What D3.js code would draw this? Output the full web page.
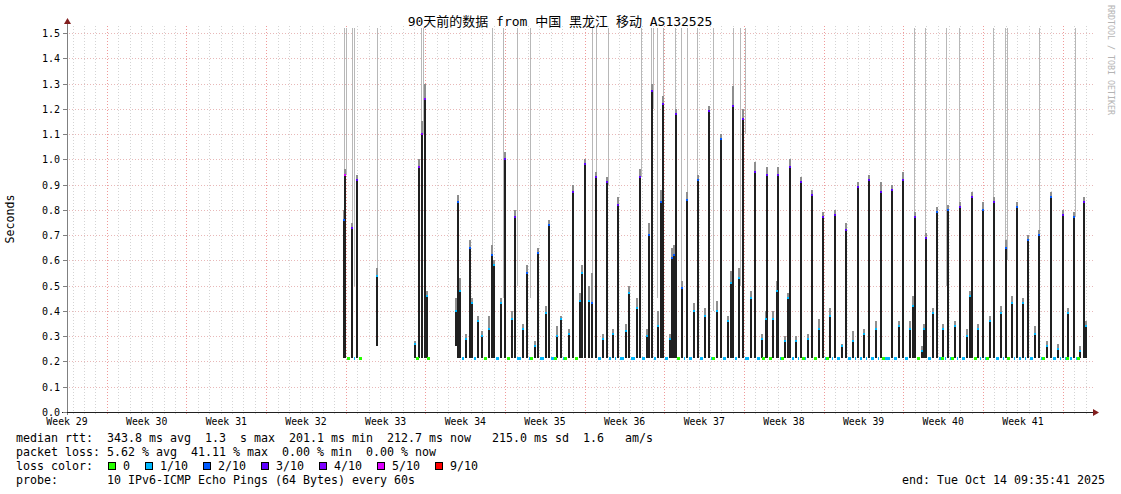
<!DOCTYPE html>
<html><head><meta charset="utf-8">
<script src="https://cdn.jsdelivr.net/npm/d3@7"></script>
<style>
body{margin:0;background:#fff}
text{font-family:"DejaVu Sans Mono","Noto Sans CJK SC",monospace;fill:#000}
</style>
</head><body>
<svg id="c" width="1121" height="494"></svg>
<script>
// ---------------- data ----------------
const title = "90天前的数据 from 中国 黑龙江 移动 AS132525";
const yTicks = [0.0,0.1,0.2,0.3,0.4,0.5,0.6,0.7,0.8,0.9,1.0,1.1,1.2,1.3,1.4,1.5];
const weekLabels = ["Week 29","Week 30","Week 31","Week 32","Week 33","Week 34","Week 35","Week 36","Week 37","Week 38","Week 39","Week 40","Week 41"];
const weekLabelDays = [0,7,14,21,28,35,42,49,56,63,70,77,84];
const weekLineDays = [3.5,10.5,17.5,24.5,31.5,38.5,45.5,52.5,59.5,66.5,73.5,80.5,87.5];
// spikes of the median rtt (days since start of the 90 day window, seconds)
const spikeDays = [24.30,24.47,25.00,25.48,27.20,30.58,30.97,31.19,31.46,31.63,
 34.18,34.36,34.53,35.06,35.41,35.59,36.12,36.47,37.08,37.35,37.52,38.14,38.49,39.10,39.37,40.07,40.42,41.12,41.39,42.09,42.35,43.06,43.41,44.11,44.46,45.08,45.25,45.52,45.87,46.13,46.48,47.10,47.45,47.98,48.42,49.12,49.38,50.09,50.35,50.97,51.14,51.40,51.93,52.20,52.37,52.99,53.16,53.34,53.51,54.04,54.48,55.10,55.45,56.06,56.41,57.12,57.47,58.08,58.35,58.52,59.05,59.40,60.11,60.46,61.07,61.42,61.51,62.04,62.39,62.48,63.09,63.36,63.53,64.06,64.50,65.11,65.46,66.08,66.43,67.05,67.48,68.10,68.45,69.07,69.51,70.04,70.47,71.09,71.53,72.50,73.11,73.46,74.08,74.34,74.52,75.13,75.31,75.48,76.10,76.45,76.98,77.42,78.03,78.47,79.09,79.35,79.52,80.05,80.49,81.11,81.46,82.07,82.51,83.04,83.48,84.01,84.45,85.06,85.41,86.11,86.47,87.08,87.52,87.96,88.49,89.01,89.37,89.54];
const spikePeak = [0.76,0.94,0.73,0.92,0.54,0.27,0.97,1.10,1.24,0.46,
 0.40,0.83,0.48,0.29,0.65,0.43,0.36,0.30,0.33,0.62,0.58,0.43,1.00,0.37,0.77,0.33,0.55,0.26,0.63,0.39,0.74,0.30,0.37,0.31,0.87,0.44,0.55,0.98,0.44,0.43,0.93,0.29,0.91,0.31,0.82,0.32,0.47,0.41,0.93,0.30,0.70,1.27,0.34,0.83,1.22,0.29,0.61,0.62,1.18,0.49,0.84,0.40,0.92,0.38,1.19,0.40,1.08,0.36,0.51,1.21,0.53,1.16,0.45,0.95,0.29,0.37,0.94,0.37,0.48,0.94,0.28,0.45,0.97,0.28,0.91,0.29,0.86,0.33,0.77,0.38,0.78,0.26,0.72,0.28,0.89,0.31,0.92,0.33,0.87,0.88,0.34,0.92,0.33,0.42,0.77,0.24,0.33,0.69,0.39,0.79,0.33,0.80,0.34,0.81,0.30,0.46,0.85,0.33,0.80,0.36,0.83,0.39,0.65,0.43,0.81,0.43,0.68,0.31,0.70,0.26,0.85,0.25,0.78,0.39,0.77,0.24,0.83,0.34];
const spikeMax = [0.80,0.96,0.75,0.94,0.57,0.28,1.00,1.15,1.30,0.48,
 0.45,0.86,0.53,0.31,0.68,0.45,0.38,0.32,0.38,0.66,0.60,0.45,1.03,0.40,0.80,0.35,0.58,0.28,0.65,0.42,0.76,0.34,0.38,0.33,0.90,0.47,0.58,1.00,0.50,0.55,0.95,0.31,0.93,0.33,0.85,0.35,0.50,0.45,0.96,0.33,0.75,1.30,0.40,0.88,1.25,0.31,0.65,0.66,1.20,0.52,0.87,0.43,0.94,0.41,1.21,0.44,1.10,0.38,0.56,1.29,0.57,1.20,0.48,0.99,0.31,0.40,0.97,0.40,0.52,0.97,0.30,0.47,1.00,0.30,0.93,0.31,0.88,0.37,0.79,0.41,0.80,0.27,0.75,0.32,0.91,0.33,0.94,0.36,0.91,0.90,0.36,0.95,0.36,0.46,0.79,0.26,0.35,0.71,0.41,0.81,0.35,0.82,0.36,0.83,0.33,0.48,0.87,0.35,0.83,0.38,0.85,0.42,0.68,0.46,0.83,0.45,0.70,0.34,0.72,0.28,0.87,0.27,0.80,0.41,0.79,0.26,0.85,0.36];
const spikeLow = [0.213,0.213,0.213,0.213,0.26,0.213,0.213,0.213,0.213,0.213,
 0.26];
const spikeLoss = [2,5,3,3,1,1,4,4,4,1,
 1,2,1,1,2,1,1,1,1,2,1,1,3,1,3,1,2,1,2,1,2,1,1,1,3,1,1,3,1,2,3,1,3,1,3,1,1,1,3,1,2,3,1,2,3,1,2,2,3,2,2,1,2,1,3,1,2,1,1,3,1,3,1,3,1,1,3,1,1,3,1,1,3,1,3,1,3,1,3,1,3,1,3,1,3,1,3,1,3,3,1,3,1,1,3,1,1,3,1,2,1,2,1,3,1,1,3,1,2,1,3,1,2,1,2,1,2,1,2,1,2,1,3,1,2,1,3,1];
// columns where some pings exceeded the graph top
const timeoutDays = [24.34,24.52,25.04,25.21,27.28,31.10,31.30,37.35,38.32,39.54,40.69,46.13,46.48,47.54,50.44,51.32,51.49,51.84,52.37,53.43,53.95,54.48,55.36,56.77,58.52,59.14,59.58,74.43,75.40,77.24,78.38,81.37,82.43,82.60,85.41,88.58];
const timeoutLow = [0.80,0.94,0.72,0.50,0.28,1.00,1.10,0.62,0.45,0.50,0.45,0.45,0.93,0.90,0.93,1.00,1.20,0.45,1.22,0.62,0.50,0.84,0.90,0.40,1.20,0.50,1.10,0.45,0.50,0.50,0.50,0.83,0.60,0.60,0.70,0.77];
// periods with data and their base rtt
const dataRanges = [[24.20,25.90],[30.50,31.72],[34.10,89.62]];
const baseRtt = [0.213,0.213,0.213];
// base periods without loss (green)
const greenDays = [24.69,25.75,30.76,31.72,36.73,38.75,40.77,42.88,43.76,44.73,53.69,56.77,61.16,61.78,62.83,64.67,65.73,66.78,71.70,74.78,76.89,77.77,79.79,80.84,82.69,85.76,87.87,88.84];
const lossLabels = ["0","1/10","2/10","3/10","4/10","5/10","9/10"];
const lossColors = ["#26ff00","#00b8ff","#0059ff","#5e00ff","#7e00ff","#dd00ff","#ff0000"];
const lossColorOf = {0:"#26ff00",1:"#00b8ff",2:"#0059ff",3:"#5e00ff",4:"#7e00ff",5:"#dd00ff",9:"#ff0000"};
const legendRows = [
 "median rtt:  343.8 ms avg  1.3  s max  201.1 ms min  212.7 ms now   215.0 ms sd  1.6   am/s",
 "packet loss: 5.62 % avg  41.11 % max  0.00 % min  0.00 % now",
 "loss color:",
 "probe:       10 IPv6-ICMP Echo Pings (64 Bytes) every 60s"];
const endText = "end: Tue Oct 14 09:35:41 2025";

// ---------------- drawing ----------------
const svg = d3.select('#c');
svg.append('rect').attr('width',1121).attr('height',494).attr('fill','#fff');
const x = d3.scaleLinear().domain([0,90]).range([67,1091.2]);
const y = d3.scaleLinear().domain([0,1.52]).range([412,28]);
const px = v => Math.round(x(v));
const py = v => Math.round(y(v));

// grid
const g = svg.append('g').attr('shape-rendering','crispEdges');
const minorDays = d3.range(0.5,90,1).filter(d => !weekLineDays.some(w => Math.abs(w-d)<0.01));
g.selectAll('.vmin').data(minorDays).join('line')
 .attr('x1',d=>px(d)+0.5).attr('x2',d=>px(d)+0.5).attr('y1',26).attr('y2',414)
 .attr('stroke','#d4d4d4').attr('stroke-dasharray','1,2');
g.selectAll('.hmaj').data(yTicks.filter(v=>v>0)).join('line')
 .attr('x1',63).attr('x2',1093).attr('y1',d=>py(d)+0.5).attr('y2',d=>py(d)+0.5)
 .attr('stroke','#e8b8b8').attr('stroke-dasharray','1,2');
g.selectAll('.vmaj').data(weekLineDays).join('line')
 .attr('x1',d=>px(d)+0.5).attr('x2',d=>px(d)+0.5).attr('y1',26).attr('y2',415)
 .attr('stroke','#f09a9a').attr('stroke-dasharray','1,2');

// timeouts
const plot = svg.append('g').attr('shape-rendering','crispEdges');
plot.selectAll('.to').data(timeoutDays).join('rect')
 .attr('x',d=>px(d)-0.5).attr('width',1.5)
 .attr('y',28).attr('height',(d,i)=>py(timeoutLow[i])-28)
 .attr('fill','#b8b8b8');

// smoke above the median
plot.selectAll('.sm').data(spikeDays).join('rect')
 .attr('x',d=>px(d)-1).attr('width',2)
 .attr('y',(d,i)=>py(spikeMax[i])).attr('height',(d,i)=>Math.max(0,py(spikePeak[i])-py(spikeMax[i])))
 .attr('fill','#8e8e8e');
// dark smoke columns
plot.selectAll('.sp').data(spikeDays).join('rect')
 .attr('x',d=>px(d)-1).attr('width',2)
 .attr('y',(d,i)=>py(spikePeak[i]))
 .attr('height',(d,i)=>py(spikeLow[i]!==undefined?spikeLow[i]:0.213)-py(spikePeak[i]))
 .attr('fill','#202020');

// base line segments (1/10 loss colour) between spikes
dataRanges.forEach((r,ri)=>{
  const inside = spikeDays.filter(d=>d>=r[0]&&d<=r[1]);
  const edges = [x(r[0])-2].concat(inside.map(d=>px(d))).concat([x(r[1])+2]);
  for(let k=0;k<edges.length-1;k++){
    const a = edges[k]+2, b = edges[k+1]-2;
    if(b>a) plot.append('rect').attr('x',a).attr('width',b-a)
      .attr('y',py(baseRtt[ri])-1).attr('height',2.5).attr('fill',lossColorOf[1]);
  }
});
plot.selectAll('.gr').data(greenDays).join('rect')
 .attr('x',d=>px(d)-1).attr('width',3).attr('y',py(0.213)-1).attr('height',2.5)
 .attr('fill',lossColorOf[0]);
// median markers at the peaks
plot.selectAll('.mk').data(spikeDays).join('rect')
 .attr('x',d=>px(d)-1).attr('width',2)
 .attr('y',(d,i)=>py(spikePeak[i])-1).attr('height',2)
 .attr('fill',(d,i)=>lossColorOf[spikeLoss[i]]);

// axes
const ax = svg.append('g').attr('shape-rendering','crispEdges');
ax.append('line').attr('x1',67.5).attr('x2',67.5).attr('y1',22).attr('y2',415).attr('stroke','#808080');
ax.append('line').attr('x1',62).attr('x2',1094).attr('y1',412.5).attr('y2',412.5).attr('stroke','#202020');
ax.selectAll('.yt').data(yTicks).join('line')
 .attr('x1',63).attr('x2',67).attr('y1',d=>py(d)+0.5).attr('y2',d=>py(d)+0.5).attr('stroke','#808080');
svg.append('path').attr('d','M64,24 L71,24 L67.5,18 Z').attr('fill','#821e1e');
svg.append('path').attr('d','M1093,409 L1093,416 L1099,412.5 Z').attr('fill','#821e1e');

svg.selectAll('.yl').data(yTicks).join('text')
 .attr('x',60).attr('y',d=>py(d)+4).attr('text-anchor','end')
 .style('font-size','10px').text(d=>d.toFixed(1));
svg.selectAll('.wl').data(weekLabels).join('text')
 .attr('x',(d,i)=>x(weekLabelDays[i])).attr('y',425).attr('text-anchor','middle')
 .style('font-size','9.8px').text(d=>d);

// title and labels
svg.append('text').attr('x',560).attr('y',26).attr('text-anchor','middle')
 .style('font-size','13px').text(title);
svg.append('text').attr('transform','translate(14,219) rotate(-90)').attr('text-anchor','middle')
 .style('font-size','11.6px').text('Seconds');
svg.append('text').attr('transform','translate(1108,5) rotate(90)').attr('text-anchor','start')
 .style('font-size','8.3px').style('fill','#b4b4b4').text('RRDTOOL / TOBI OETIKER');

// legend
const rowsY = [442,456,470,484];
legendRows.forEach((t,i)=>{
  svg.append('text').attr('x',16).attr('y',rowsY[i]).attr('xml:space','preserve')
   .style('font-size','11.63px').style('white-space','pre').text(t);
});
let lx = 108;
lossLabels.forEach((l,i)=>{
  svg.append('rect').attr('x',lx+0.5).attr('y',462.5).attr('width',7).attr('height',7)
   .attr('fill',lossColors[i]).attr('stroke','#000').attr('stroke-width',1);
  svg.append('text').attr('x',lx+15).attr('y',rowsY[2]).style('font-size','11.63px').text(l);
  lx = lx + 15 + l.length*7 + 15;
});
svg.append('text').attr('x',1105).attr('y',rowsY[3]).attr('text-anchor','end')
 .style('font-size','11.63px').text(endText);
</script>
</body></html>
